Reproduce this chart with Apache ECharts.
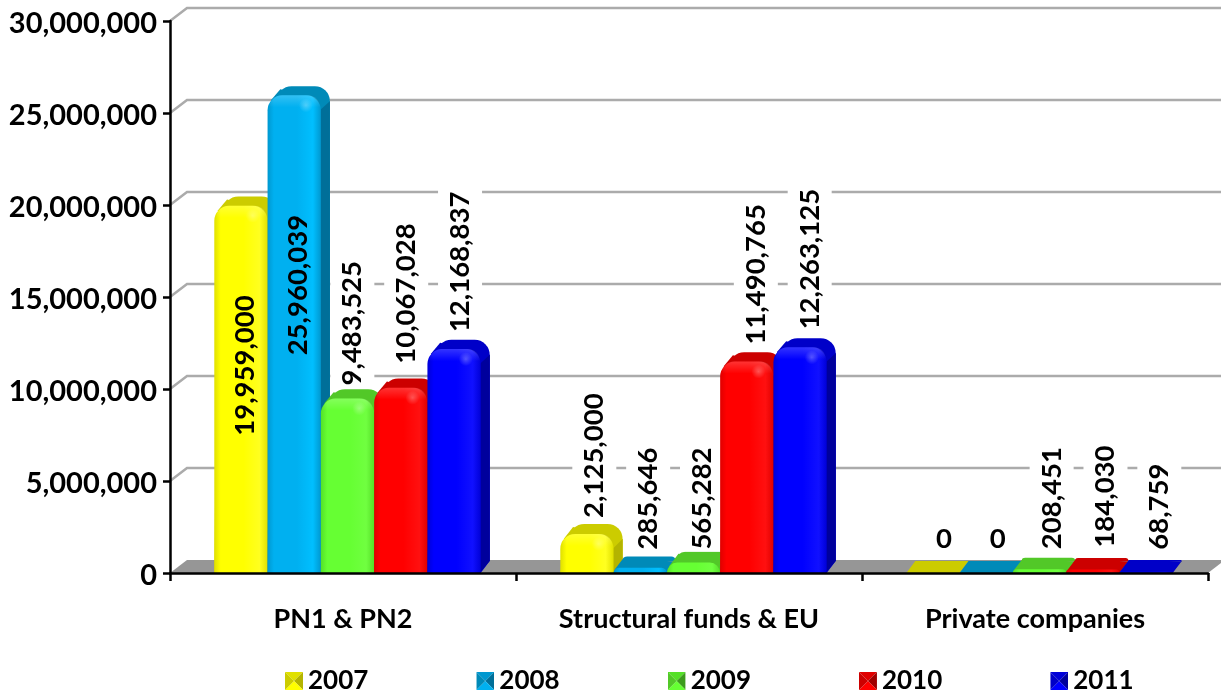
<!DOCTYPE html>
<html><head><meta charset="utf-8">
<style>html,body{margin:0;padding:0;background:#fff}#c{width:1221px;height:695px}</style>
<script src="https://cdn.jsdelivr.net/npm/echarts@6/dist/echarts.min.js"></script>
</head><body><div id="c"></div>
<script>
const categories = ['PN1 & PN2', 'Structural funds & EU', 'Private companies'];
const years = ['2007', '2008', '2009', '2010', '2011'];
const v2007 = [19959000, 2125000, 0];
const v2008 = [25960039, 285646, 0];
const v2009 = [9483525, 565282, 208451];
const v2010 = [10067028, 11490765, 184030];
const v2011 = [12168837, 12263125, 68759];
const seriesValues = [v2007, v2008, v2009, v2010, v2011];
const wallTicks = [5000000, 10000000, 15000000, 20000000, 25000000, 30000000];

// Styling
const faceColors = ['#ffff00', '#00b0f0', '#66ff33', '#ff0000', '#0000ff'];
const brightColors = ['#ffff20', '#00bfff', '#70ff40', '#ff1010', '#1010ff'];
const edgeColors = ['#e0e000', '#0098d0', '#55e028', '#e00000', '#0000d8'];
const topColors = ['#cccc00', '#008ab8', '#52c828', '#cc0000', '#0000c8'];
const sideColors = ['#b4b400', '#006f99', '#3c9c1c', '#a00000', '#00009c'];
const labelLift = [[-232, 14, 24], [-262, 16, 24], [11, 11, 18], [22, 15, 20], [15, 16, 20]];
const FONT = '"Lato","Open Sans",sans-serif';
const DX = 9, FLOOR_DEPTH = 12;

const fmt = n => n.toString().replace(/\B(?=(\d{3})+(?!\d))/g, ',');

function pyramid(i) {
  const c = faceColors[i], e = edgeColors[i], t = topColors[i], s = sideColors[i];
  const svg = `<svg xmlns="http://www.w3.org/2000/svg" width="18" height="18">` +
    `<polygon points="0,0 18,0 9,9" fill="${e}"/><polygon points="18,0 18,18 9,9" fill="${s}"/>` +
    `<polygon points="0,18 18,18 9,9" fill="${c}"/><polygon points="0,0 0,18 9,9" fill="${t}"/></svg>`;
  return 'image://data:image/svg+xml;charset=utf-8,' + encodeURIComponent(svg);
}

function barRender(si) {
  return function (params, api) {
    const cat = api.value(0), val = api.value(1);
    const base = api.coord([cat, 0]);
    const pt = api.coord([cat, val]);
    const band = api.size([1, 0])[0];
    const w = band * 0.154;
    const x = base[0] - 2.5 * w + si * w + 4.5;
    const y0 = base[1];
    const yf = pt[1];
    const yb = yf - (9 + 3 / (1 + val / 1e6));
    const floorY = y0 - FLOOR_DEPTH;
    const h = y0 - yf;
    const r = Math.min(15, h);
    const c = faceColors[si], e = edgeColors[si], b = brightColors[si];
    const children = [
      { type: 'polygon', shape: { points: [[x + r * .25, yf + r * .3], [x + r * .25 + DX, yb + r * .2], [x + w + DX, yb + r], [x + w + DX, floorY], [x + w, y0], [x, y0]] }, style: { fill: topColors[si] } },
      { type: 'rect', shape: { x: x + DX, y: yb, width: w, height: floorY - yb, r: [r, r, 0, 0] }, style: { fill: topColors[si] } }
    ];
    if (h > 0) {
      children.push({ type: 'polygon', shape: { points: [[x + w - 1, yf + r], [x + w + DX, yb + r], [x + w + DX, floorY], [x + w - 1, y0]] }, style: { fill: sideColors[si] } });
      children.push({
        type: 'rect', shape: { x, y: yf, width: w, height: h, r: [r, r, 0, 0] },
        style: { fill: new echarts.graphic.LinearGradient(0, 0, 1, 0, [
          { offset: 0, color: e }, { offset: 0.12, color: c }, { offset: 0.55, color: c }, { offset: 0.85, color: b }, { offset: 1, color: e }
        ]) }
      });
      if (h > 14) {
        children.push({
          type: 'rect', shape: { x: x + 2, y: yf, width: w - 3, height: 12, r: [r, r, 0, 0] },
          style: { fill: new echarts.graphic.LinearGradient(0, 0, 0, 1, [
            { offset: 0, color: 'rgba(255,255,255,0.2)' }, { offset: 1, color: 'rgba(255,255,255,0)' }
          ]) }
        });
        children.push({
          type: 'circle', shape: { cx: x + w * 0.72, cy: yf + 10, r: 7 },
          style: { fill: new echarts.graphic.RadialGradient(0.5, 0.5, 0.5, [
            { offset: 0, color: 'rgba(255,255,255,0.28)' }, { offset: 1, color: 'rgba(255,255,255,0)' }
          ]) }
        });
      }
    }
    const cx = x + w / 2;
    const lx = cx + 3 + 0.0105 * (cx - params.coordSys.x);
    const lift = labelLift[si][cat];
    const inside = lift < 0;
    const bottom = pt[1] - lift;
    const up = val !== 0;
    children.push({
      type: 'text', x: lx, y: up ? bottom : bottom - 10, rotation: up ? Math.PI / 2 : 0, z2: 50,
      style: {
        text: fmt(val), x: 0, y: 0, align: up ? 'left' : 'center', verticalAlign: 'middle',
        font: 'bold 27.5px ' + FONT, fill: '#000',
        backgroundColor: inside || !up ? 'transparent' : '#fff', padding: [8, 2, 8, 2]
      }
    });
    return { type: 'group', children };
  };
}

function wallRender(params, api) {
  const v = api.value(1);
  const p = api.coord([0, v]);
  const left = params.coordSys.x, right = left + params.coordSys.width;
  const y = p[1];
  if (v === 0) {
    return { type: 'polygon', shape: { points: [[left, y], [left + 17, y - 13], [right + 17, y - 13], [right, y]] }, style: { fill: '#969696' } };
  }
  return {
    type: 'polyline',
    shape: { points: [[left, y], [left + 17, y - 13], [right + 17, y - 13]] },
    style: { stroke: '#ababab', lineWidth: 2.5, fill: 'none' }
  };
}

const option = {
  animation: false,
  backgroundColor: '#fff',
  grid: { left: 170, right: 13, top: 21, bottom: 122, containLabel: false },
  legend: {
    left: 285, top: 668, padding: 0, itemWidth: 18, itemHeight: 18, itemGap: 108,
    textStyle: { fontFamily: FONT, fontWeight: 'bold', fontSize: 26, color: '#000' },
    data: years.map((y, i) => ({ name: y, icon: pyramid(i) }))
  },
  xAxis: {
    type: 'category', data: categories, z: 10,
    axisLine: { lineStyle: { color: '#000', width: 2.5 } },
    axisTick: { show: true, alignWithLabel: false, length: 8, lineStyle: { color: '#000', width: 2.5 } },
    axisLabel: { margin: 33, fontFamily: FONT, fontWeight: 'bold', fontSize: 27, color: '#000' }
  },
  yAxis: {
    type: 'value', min: 0, max: 30000000, interval: 5000000, z: 10,
    axisLine: { show: true, lineStyle: { color: '#000', width: 2.5 } },
    axisTick: { show: true, length: 7, lineStyle: { color: '#000', width: 2.5 } },
    splitLine: { show: false },
    axisLabel: {
      margin: 13, color: '#000', formatter: v => '{n|' + fmt(v) + '}',
      rich: { n: { fontFamily: FONT, fontWeight: 'bold', fontSize: 29, color: '#000', padding: [6, 0, 0, 0] } }
    }
  },
  series: [
    { type: 'custom', name: 'wall', silent: true, z: 1, clip: false, renderItem: wallRender,
      encode: { x: 0, y: 1 }, data: [0].concat(wallTicks).map(v => [0, v]) }
  ].concat(years.map((y, si) => ({
    type: 'custom', name: y, z: 2 + si, clip: false, renderItem: barRender(si),
    encode: { x: 0, y: 1 }, itemStyle: { color: faceColors[si] },
    data: seriesValues[si].map((v, i) => [i, v])
  })))
};
const chart = echarts.init(document.getElementById('c'), null, { renderer: 'canvas' });
chart.setOption(option);
</script></body></html>
